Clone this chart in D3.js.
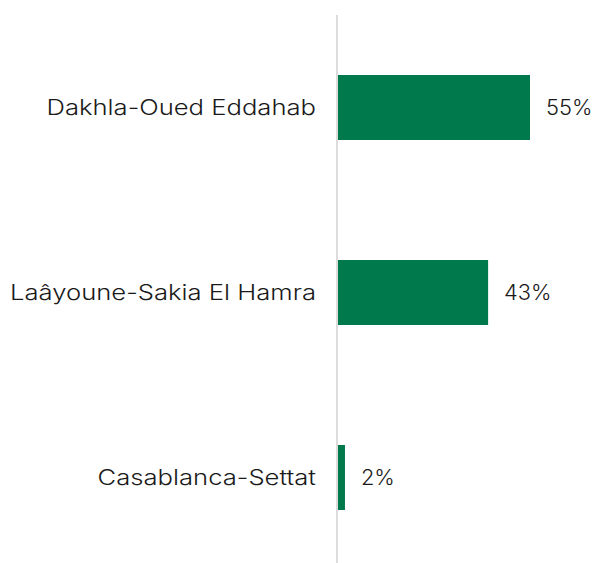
<!DOCTYPE html>
<html><head><meta charset="utf-8">
<script src="https://cdn.jsdelivr.net/npm/d3@7"></script>
<style>body{margin:0;background:#fff}svg{display:block}</style>
</head><body>
<script>
const categories = ["Dakhla-Oued Eddahab", "Laâyoune-Sakia El Hamra", "Casablanca-Settat"];
const values = [55, 43, 2];
const valueLabels = ["55%", "43%", "2%"];

const W = 597, H = 563;
const x0 = 338;
const svg = d3.select("body").append("svg").attr("width", W).attr("height", H);
const x = d3.scaleLinear().domain([0, 55]).range([x0, 530]);
const y = d3.scaleBand().domain(categories).range([19.5, 565.5]).paddingInner(0.6486).paddingOuter(0.3);

svg.append("line").attr("x1", 337).attr("x2", 337).attr("y1", 15).attr("y2", 563)
  .attr("stroke", "#dcdcdc").attr("stroke-width", 2);

svg.selectAll("rect.bar").data(categories).join("rect").attr("class","bar")
  .attr("x", x(0)).attr("y", d => y(d)).attr("height", y.bandwidth())
  .attr("width", (d,i) => x(values[i]) - x(0)).attr("fill", "#007a4d");

const font = "Inter, 'Open Sans', sans-serif";
const cats = svg.selectAll("text.cat").data(categories).join("text").attr("class","cat")
  .attr("x", 316).attr("y", d => y(d) + y.bandwidth()/2).attr("dy", "0.35em")
  .attr("text-anchor", "end").attr("font-family", font).attr("font-weight", 300)
  .attr("font-size", 21).attr("fill", "#1a1a1a").text(d => d);
cats.each(function(){
  const w = this.getComputedTextLength();
  d3.select(this).attr("textLength", w * 1.22).attr("lengthAdjust", "spacingAndGlyphs");
});

const vals = svg.selectAll("text.val").data(categories).join("text").attr("class","val")
  .attr("x", (d,i) => x(values[i]) + 16).attr("y", d => y(d) + y.bandwidth()/2).attr("dy", "0.35em")
  .attr("font-family", font).attr("font-weight", 300)
  .attr("font-size", 21).attr("fill", "#1a1a1a").text((d,i) => valueLabels[i]);
vals.each(function(){
  const w = this.getComputedTextLength();
  d3.select(this).attr("textLength", w * 1.04).attr("lengthAdjust", "spacingAndGlyphs");
});
</script>
</body></html>
